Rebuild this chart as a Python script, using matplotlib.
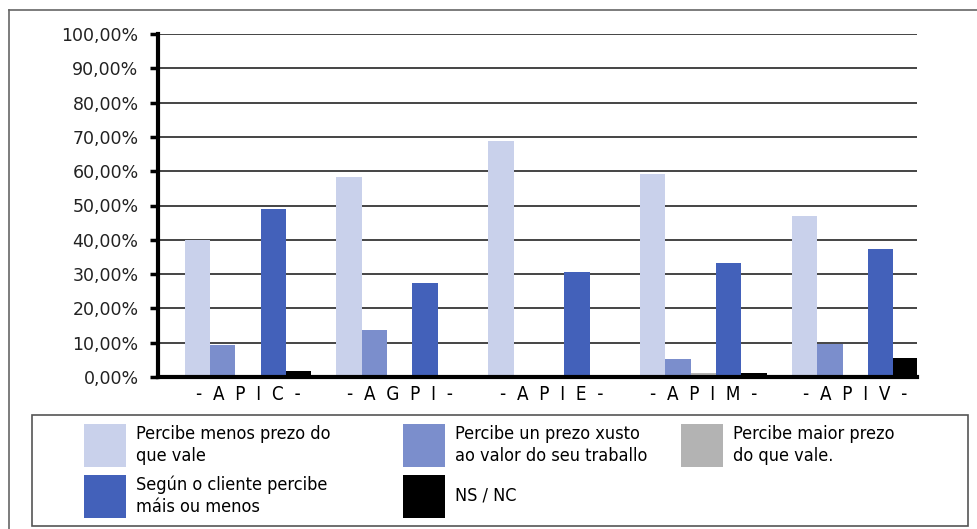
import numpy as np
import matplotlib
matplotlib.use('Agg')
import matplotlib.pyplot as plt
from matplotlib.patches import Rectangle
from matplotlib.lines import Line2D
from matplotlib.ticker import FuncFormatter, MultipleLocator

# Datos (porcentajes)
categorias = ['-  A  P  I  C  -', '-  A  G  P  I  -', '-  A  P  I  E  -', '-  A  P  I  M  -', '-  A  P  I  V  -']
menos_prezo = [39.8, 58.4, 68.9, 59.3, 47.0]
prezo_xusto = [9.3, 13.7, 0.0, 5.2, 9.6]
maior_prezo = [0.0, 0.0, 0.0, 1.1, 0.0]
segun_cliente = [49.0, 27.4, 30.6, 33.2, 37.4]
ns_nc = [1.8, 0.0, 0.0, 1.1, 5.5]

series = [menos_prezo, prezo_xusto, maior_prezo, segun_cliente, ns_nc]
etiquetas = ['Percibe menos prezo do\nque vale',
             'Percibe un prezo xusto\nao valor do seu traballo',
             'Percibe maior prezo\ndo que vale.',
             'Según o cliente percibe\nmáis ou menos',
             'NS / NC']
cores = ['#C9D1EB', '#7B8ECC', '#B3B3B3', '#4361BA', '#000000']

W, H = 978, 529
fig = plt.figure(figsize=(W / 100, H / 100), dpi=100)
ax = fig.add_axes([158 / W, 1 - 377 / H, (917 - 158) / W, (377 - 34) / H])

x = np.arange(len(categorias))
ancho = 0.167
for i, (vals, cor) in enumerate(zip(series, cores)):
    ax.bar(x + (i - 2) * ancho, vals, width=ancho, color=cor, zorder=3)

ax.set_ylim(0, 100)
ax.set_xlim(-0.593, 4.407)
ax.yaxis.set_major_locator(MultipleLocator(10))
ax.yaxis.set_major_formatter(FuncFormatter(lambda v, p: f'{v:.2f}'.replace('.', ',') + '%'))
ax.grid(axis='y', color='#444444', lw=1.4, zorder=0)
ax.get_ygridlines()[-1].set_color('#888888')
ax.set_xticks(x)
ax.set_xticklabels(categorias, fontsize=13.5, family='DejaVu Sans', stretch='condensed')
ax.tick_params(axis='x', length=0, pad=6)
ax.tick_params(axis='y', length=6, width=2.5, labelsize=12.5, pad=8, colors='black')
for lbl in ax.get_yticklabels():
    lbl.set_color('#222222')
for lado in ['top', 'right']:
    ax.spines[lado].set_visible(False)
for lado in ['left', 'bottom']:
    ax.spines[lado].set_linewidth(3)
ax.spines['left'].set_zorder(4)
ax.spines['bottom'].set_zorder(4)

# Marco exterior
fig.add_artist(Line2D([9 / W, 1], [1 - 10 / H, 1 - 10 / H], color='#666666', lw=1.2))
fig.add_artist(Line2D([9 / W, 9 / W], [1 - 10 / H, 0], color='#666666', lw=1.2))

# Lenda
fig.add_artist(Rectangle((32 / W, 1 - 526 / H), (968 - 32) / W, (526 - 415) / H,
                         fill=False, edgecolor='#555555', lw=1.2))
col_x = [84, 403, 681]
fila_y = [424, 475]
for k, (txt, cor) in enumerate(zip(etiquetas, cores)):
    cx = col_x[k % 3]
    fy = fila_y[k // 3]
    fig.add_artist(Rectangle((cx / W, 1 - (fy + 43) / H), 42 / W, 43 / H,
                             facecolor=cor, edgecolor='none'))
    fig.text((cx + 52) / W, 1 - (fy + 21) / H, txt, fontsize=13, va='center', ha='left',
             linespacing=1.3, family='DejaVu Sans', stretch='condensed')

fig.savefig('out.png', dpi=100)
